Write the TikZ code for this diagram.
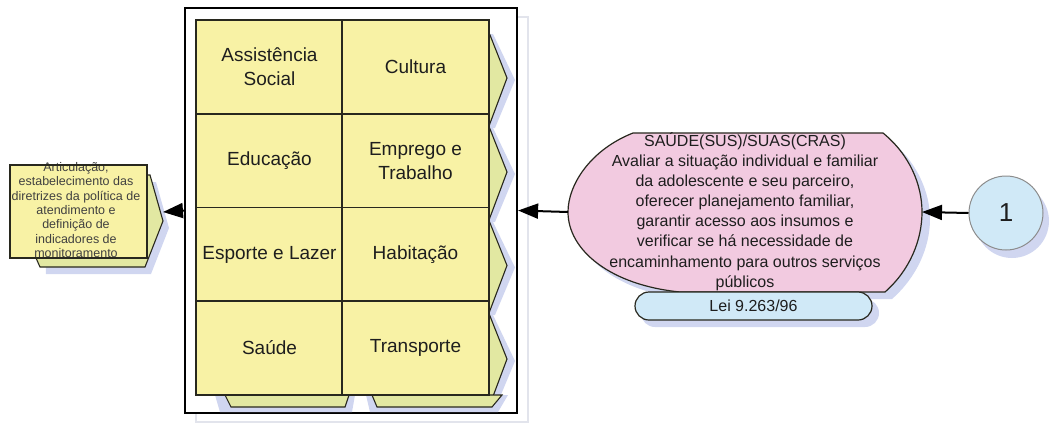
\documentclass[tikz,border=0pt]{standalone}
\usepackage{fontspec}
\setmainfont{Liberation Sans}
\usetikzlibrary{arrows.meta}
\definecolor{cellY}{RGB}{248,242,165}
\definecolor{backY}{RGB}{226,232,162}
\definecolor{shadowB}{RGB}{208,214,240}
\definecolor{shadowL}{RGB}{226,228,236}
\definecolor{pinkF}{RGB}{242,202,224}
\definecolor{blueF}{RGB}{208,233,247}
\definecolor{txt}{RGB}{30,30,30}
\definecolor{edge}{RGB}{40,40,30}
\tikzset{
  cellbox/.style={draw=edge, line width=1.2pt, fill=cellY, minimum width=147pt, minimum height=94pt, inner sep=0pt, text=txt, align=center, font=\fontsize{19}{24}\selectfont},
  backshape/.style={draw=edge, line width=1.1pt, fill=backY},
  shade/.style={fill=shadowB, draw=none},
  conn/.style={line width=2pt, -{Triangle[length=20pt,width=15pt]}},
}
\begin{document}
\begin{tikzpicture}[x=1pt,y=-1pt]
\useasboundingbox (0,0) rectangle (1053,424);
% frame shadow and frame
\draw[draw=shadowL, line width=1.5pt, fill=white] (196,17) rectangle (528,422);
\node[draw, line width=2.2pt, fill=white, minimum width=332pt, minimum height=405pt, inner sep=0pt] (frame) at (351,210.5) {};
% right column back shapes (shadow then shape)
\foreach \t/\b in {20/114,114/208,208/301,301/395}{
  \fill[shadowB] (493,\t+14) -- (515,{(\t+\b)/2+13}) -- (495,\b+14) -- (488,\b+14) -- (488,\t+14) -- cycle;
}
\foreach \t/\b in {20/114,114/208,208/301,301/395}{
  \draw[backshape] (488,\t+10) -- (507,{(\t+\b)/2+11}) -- (489,\b+12) -- (488,\b+12) -- cycle;
}
% bottom back shapes
\fill[shadowB] (215,395) -- (355,395) -- (352,412) -- (220,412) -- cycle;
\fill[shadowB] (366,395) -- (508,395) -- (498,412) -- (370,412) -- cycle;
\draw[backshape] (225,395) -- (349,395) -- (345,407) -- (231,407) -- cycle;
\draw[backshape] (372,395) -- (502,395) -- (492,407) -- (377,407) -- cycle;
% cells
\node[cellbox] (as) at (269.5,67) {Assistência\\Social};
\node[cellbox] (cu) at (415.5,67) {Cultura};
\node[cellbox] (ed) at (269.5,161) {Educação};
\node[cellbox] (em) at (415.5,161) {Emprego e\\Trabalho};
\node[cellbox] (es) at (269.5,254.5) {Esporte e Lazer};
\node[cellbox] (ha) at (415.5,254.5) {Habitação};
\node[cellbox] (sa) at (269.5,348) {Saúde};
\node[cellbox] (tr) at (415.5,348) {Transporte};
% left box
\fill[shadowB] (44,182) -- (156,182) -- (169,228) -- (151,274) -- (46,274) -- cycle;
\draw[backshape] (36,175) -- (150,175) -- (163,221) -- (145,267) -- (40,267) -- (36,258) -- cycle;
\fill[cellY] (10,165) rectangle (147,258);
\node[text=black!75, align=center, font=\fontsize{12.5}{14.3}\selectfont, inner sep=0pt] (arttext) at (76,210)
 {Articulação,\\estabelecimento das\\diretrizes da política de\\atendimento e\\definição de\\indicadores de\\monitoramento};
\node[draw=edge, line width=1.2pt, minimum width=137pt, minimum height=93pt, inner sep=0pt] (art) at (78.5,211.5) {};
\coordinate (artTip) at (163,212);
% pink shape
\fill[shadowB] (640,140) -- (890,140) .. controls (917,162) and (930,192) .. (930,219) .. controls (930,247) and (917,277) .. (892,299) -- (687,299) .. controls (617,292) and (575,257) .. (575,219) .. controls (575,192) and (597,157) .. (640,140) -- cycle;
\draw[fill=pinkF, line width=1.2pt, draw=edge] (633,133) -- (883,133) .. controls (910,155) and (922,185) .. (922,212) .. controls (922,240) and (910,270) .. (885,292) -- (680,292) .. controls (610,285) and (568,250) .. (568,212) .. controls (568,185) and (590,150) .. (633,133) -- cycle;
\node[text=txt, align=center, font=\fontsize{16}{20.1}\selectfont, inner sep=0pt] (pink) at (745,211.5)
 {SAÚDE(SUS)/SUAS(CRAS)\\Avaliar a situação individual e familiar\\da adolescente e seu parceiro,\\oferecer planejamento familiar,\\garantir acesso aos insumos e\\verificar se há necessidade de\\encaminhamento para outros serviços\\públicos};
\coordinate (pinkL) at (568,212);
\coordinate (pinkR) at (922,212);
% lei box
\fill[shadowB, rounded corners=14pt] (641,299) rectangle (879,327);
\node[draw=edge, line width=1.2pt, rounded corners=14pt, fill=blueF, minimum width=237pt, minimum height=28pt, inner sep=0pt, text=txt, font=\fontsize{16}{19}\selectfont] (lei) at (753.5,306) {Lei 9.263/96};
% circle
\fill[shadowB] (1012,221) circle (37);
\node[circle, draw=black!45, line width=1pt, fill=blueF, minimum size=74pt, inner sep=0pt, text=txt, font=\fontsize{26}{30}\selectfont] (c1) at (1006,213) {1};
% connectors
\draw[conn] (c1.west) -- (pinkR);
\draw[conn] (pinkL) -- (frame.east);
\draw[conn] (frame.west) -- (artTip);
\end{tikzpicture}
\end{document}
